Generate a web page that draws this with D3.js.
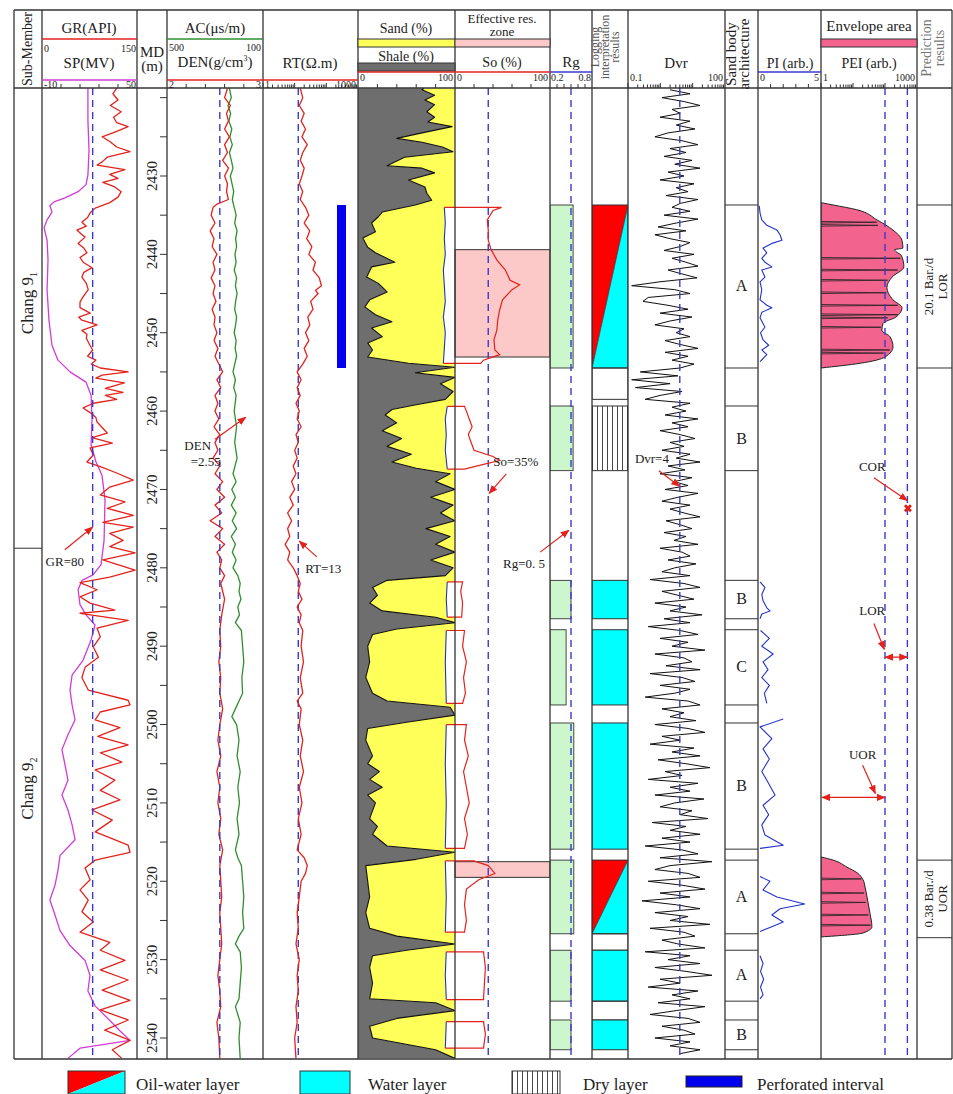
<!DOCTYPE html>
<html><head><meta charset="utf-8">
<script src="https://cdn.jsdelivr.net/npm/d3@7/dist/d3.min.js"></script>
<style>
html,body{margin:0;padding:0;background:#fff;}
svg{display:block;}
text{font-family:"Liberation Serif","Times New Roman",serif;fill:#222;}
</style></head><body>
<svg id="chart" width="953" height="1094"></svg>
<script>
// ================= DATA =================
const depthDomain = [2418.77, 2542.68];
const depthLabels = [2430,2440,2450,2460,2470,2480,2490,2500,2510,2520,2530,2540];
const depthTicks = [2420,2425,2430,2435,2440,2445,2450,2455,2460,2465,2470,2475,2480,2485,2490,2495,2500,2505,2510,2515,2520,2525,2530,2535,2540];
const subMembers = [["Chang 9","1",2418.77,2477.5],["Chang 9","2",2477.5,2542.68]];

const grCurve = [[2418.8,118],[2419.5,112],[2420.3,120],[2421,108],[2421.8,125],[2422.5,113],[2423.2,118],[2423.7,136],[2424.3,118],[2425,95],[2425.6,107],[2426.3,118],[2426.9,139],[2427.6,103],[2428.2,95],[2428.6,87],[2429.2,131],[2429.8,107],[2430.3,120],[2430.8,96],[2431.4,115],[2432,125],[2432.7,120],[2433.4,107],[2434.1,84],[2434.7,76],[2435.3,72],[2435.9,63],[2436.4,70],[2436.9,55],[2437.4,62],[2437.8,68],[2438.6,57],[2439.2,66],[2439.8,71],[2440.4,60],[2441,65],[2441.7,79],[2442.3,66],[2442.9,63],[2443.7,70],[2444.5,73],[2445.4,65],[2446.1,60],[2446.8,60],[2447.5,76],[2448,58],[2448.4,63],[2449,87],[2449.7,63],[2450.2,71],[2450.7,70],[2451.5,75],[2452.2,80],[2453,72],[2453.5,85],[2454,78],[2454.5,92],[2455,136],[2455.4,95],[2455.8,85],[2456.4,130],[2457.1,100],[2457.6,128],[2458,100],[2458.5,118],[2459,81],[2459.6,65],[2460.2,76],[2460.8,85],[2461.4,87],[2462.1,95],[2462.8,103],[2463.4,79],[2464.1,111],[2464.7,76],[2465.6,81],[2466.5,71],[2467.1,92],[2467.9,118],[2468.8,144],[2469.7,107],[2470.7,92],[2471.6,131],[2472.4,103],[2473.3,144],[2474.2,96],[2474.8,144],[2475.6,107],[2476.5,128],[2477.3,107],[2478.1,147],[2479,96],[2480.3,147],[2481.2,107],[2481.9,60],[2482.8,87],[2483.7,60],[2484.5,76],[2485.4,115],[2485.8,60],[2486.7,136],[2487.7,87],[2488.8,92],[2490.1,81],[2491.4,89],[2492.7,68],[2494,63],[2495.6,73],[2496.9,136],[2497.5,139],[2498.4,92],[2499.4,84],[2500.4,123],[2501.5,88],[2502.6,136],[2503.6,92],[2504.8,126],[2505.8,84],[2507.1,115],[2508.4,92],[2509.6,123],[2510.9,79],[2512.2,111],[2513.7,84],[2515.4,136],[2516.3,139],[2517.3,84],[2518.3,68],[2519.8,76],[2521.1,60],[2522.4,73],[2523.9,63],[2525.2,81],[2526.5,60],[2527.8,107],[2528.8,92],[2530.1,131],[2531.3,92],[2532.6,136],[2533.9,95],[2535.2,139],[2536.4,92],[2537.7,136],[2539,99],[2540.3,139],[2541.5,111],[2542.6,126]];

const spCurve = [[2418.8,19],[2422.9,19],[2426.7,19.7],[2429.9,19],[2431.1,17.8],[2432,12.8],[2432.8,4.5],[2433.3,-2.4],[2433.8,-5],[2434.6,-3.7],[2435.6,-6.8],[2436.6,-8.7],[2438.2,-6.8],[2440.7,-6.2],[2444.5,-6.8],[2448.4,-5.6],[2451.6,-3.7],[2453.5,0.1],[2455,7.7],[2456.3,17.8],[2458,21],[2461.1,21.6],[2464.3,21],[2466.5,24.1],[2468.2,27.9],[2471.3,29.8],[2476.5,29.2],[2479.6,27.3],[2480.9,22.2],[2481.6,15.3],[2482.8,12.8],[2484.7,14],[2486,17.8],[2487.3,23.5],[2489.2,21],[2491.8,15.9],[2493.7,9],[2495.6,7.7],[2497.5,9],[2499.4,10.9],[2501.3,6.4],[2503.2,2.6],[2505.1,4.5],[2507.1,6.4],[2509,2.6],[2510.9,6.4],[2512.8,9],[2514.7,10.9],[2516.7,1.4],[2518.6,0.1],[2520.5,-1.8],[2522.4,-5],[2524.3,-1.8],[2526.3,1.4],[2528.2,7.7],[2530.1,17.2],[2532,20.3],[2534,19],[2535.9,23.5],[2537.8,33],[2539.1,39.3],[2540.3,45.6],[2541.3,14],[2542.6,6.4]];

const acCurve = [[2418.8,240],[2420,232],[2421,246],[2422,235],[2423,242],[2424,230],[2425,238],[2426,228],[2427,240],[2428,232],[2429,225],[2430,236],[2431,229],[2432,222],[2433,228],[2434,220],[2435,212],[2436,218],[2437,208],[2438,214],[2439,210],[2440,217],[2441,212],[2442,220],[2443,210],[2444,215],[2445,208],[2446,214],[2447,218],[2448,210],[2449,214],[2450,220],[2451,212],[2452,216],[2453,210],[2454,218],[2455,225],[2456,215],[2457,222],[2458,212],[2460,220],[2462,210],[2464,218],[2466,208],[2468,225],[2469,212],[2470,230],[2471,215],[2472,232],[2473,212],[2474,228],[2475,210],[2476,232],[2477,215],[2478,228],[2479,212],[2480,225],[2481,205],[2482,195],[2483,200],[2484,192],[2485,205],[2486,198],[2487,215],[2488,190],[2490,185],[2492,180],[2494,188],[2496,185],[2497,200],[2498,215],[2499,230],[2500,210],[2502,200],[2504,208],[2506,195],[2508,205],[2510,198],[2512,208],[2514,200],[2516,215],[2517,205],[2518,190],[2520,185],[2522,180],[2524,185],[2526,180],[2527,200],[2528,215],[2529,195],[2531,190],[2533,195],[2535,200],[2536,215],[2537,205],[2538,195],[2540,200],[2542.6,195]];

const denCurve = [[2418.8,2.63],[2420,2.6],[2421,2.66],[2422,2.62],[2423,2.64],[2424,2.6],[2425,2.65],[2426,2.6],[2427,2.63],[2428,2.58],[2429,2.64],[2430,2.6],[2431,2.63],[2432,2.62],[2433,2.64],[2433.6,2.52],[2434,2.48],[2435,2.46],[2436,2.5],[2437,2.45],[2438,2.49],[2439,2.47],[2440,2.52],[2441,2.48],[2442,2.5],[2443,2.46],[2444,2.5],[2445,2.48],[2446,2.51],[2447,2.47],[2448,2.5],[2449,2.49],[2450,2.52],[2451,2.49],[2452,2.53],[2453,2.5],[2454,2.54],[2455,2.58],[2456,2.52],[2457,2.56],[2458,2.5],[2459,2.53],[2460,2.5],[2461,2.54],[2462,2.49],[2463,2.55],[2464,2.5],[2465,2.53],[2466,2.48],[2467,2.55],[2468,2.5],[2469,2.58],[2470,2.52],[2471,2.6],[2472,2.5],[2473,2.57],[2474,2.45],[2475,2.58],[2476,2.5],[2477,2.6],[2478,2.52],[2479,2.57],[2480,2.55],[2481,2.6],[2482,2.56],[2484,2.6],[2486,2.57],[2488,2.55],[2490,2.56],[2492,2.54],[2494,2.56],[2496,2.55],[2498,2.58],[2500,2.55],[2502,2.53],[2504,2.56],[2506,2.52],[2508,2.55],[2510,2.53],[2512,2.56],[2514,2.54],[2516,2.58],[2518,2.55],[2520,2.56],[2522,2.57],[2524,2.55],[2526,2.56],[2528,2.57],[2530,2.55],[2532,2.53],[2534,2.55],[2536,2.56],[2538,2.52],[2540,2.54],[2542.6,2.55]];

const rtCurve = [[2418.8,15],[2420,18],[2421,14],[2422,20],[2423,16],[2424,22],[2425,17],[2426,25],[2427,18],[2428,15],[2429,20],[2430,17],[2431,14],[2432,18],[2433,15],[2434,22],[2435,28],[2436,20],[2437,30],[2438,24],[2439,35],[2440,28],[2441,45],[2442,38],[2443,60],[2444,70],[2444.6,45],[2445,55],[2446,32],[2447,38],[2448,26],[2449,30],[2450,22],[2451,28],[2452,20],[2453,25],[2454,18],[2455,12],[2456,16],[2457,12],[2458,15],[2459,11],[2460,14],[2461,12],[2462,16],[2463,11],[2464,13],[2465,10],[2466,12],[2467,9],[2468,11],[2469,8],[2470,10],[2471,7],[2472,9],[2473,6],[2474,8],[2475,6],[2476,7],[2477,5],[2478,7],[2479,6],[2480,9],[2481,12],[2482,15],[2483,13],[2484,17],[2485,12],[2486,16],[2487,14],[2488,18],[2490,16],[2492,19],[2494,15],[2496,18],[2497,12],[2498,16],[2500,14],[2502,18],[2504,15],[2506,19],[2508,14],[2510,17],[2512,13],[2514,16],[2516,12],[2517,20],[2518,25],[2519,22],[2520,16],[2522,14],[2524,12],[2526,13],[2528,11],[2530,14],[2532,12],[2534,13],[2536,11],[2538,12],[2540,10],[2542.6,11]];

const shaleCurve = [[2418.8,68],[2419,66],[2419.7,79],[2420.3,69],[2420.9,79],[2421.8,71],[2422.5,79],[2423.1,72],[2423.7,97],[2424.5,66],[2425.2,40],[2425.7,66],[2426.3,87],[2426.9,98],[2427.6,48],[2428.7,30],[2429,66],[2429.6,79],[2430.5,52],[2431.4,69],[2432.2,71],[2433.1,76],[2433.7,59],[2434.6,25],[2435.2,21],[2436,14],[2437.1,18],[2437.9,5],[2439.1,10],[2439.8,18],[2441,38],[2441.6,14],[2442.9,9],[2443.7,21],[2444.8,30],[2445.8,12],[2446.7,7],[2447.7,18],[2448.6,35],[2449.4,14],[2450.5,25],[2451.3,10],[2452.2,15],[2453.1,10],[2453.9,52],[2454.4,100],[2455.1,59],[2455.7,100],[2456.5,85],[2457.5,98],[2458.5,90],[2459.2,60],[2459.8,35],[2460.5,28],[2461.5,40],[2462.5,25],[2463.5,45],[2464.5,30],[2465.5,55],[2466.5,35],[2467.3,60],[2468,95],[2469,80],[2470,100],[2471,75],[2472,98],[2473,85],[2474,100],[2475,70],[2476,95],[2477,80],[2478,100],[2479,75],[2480,98],[2481,90],[2481.6,30],[2482.5,15],[2483.5,20],[2484.5,12],[2485.5,25],[2486.3,80],[2487,100],[2487.8,40],[2488.5,15],[2490,10],[2492,12],[2494,8],[2496,15],[2497,30],[2497.8,95],[2498.8,100],[2499.7,50],[2500.5,10],[2502,8],[2504,15],[2505,10],[2506,22],[2507,12],[2508,25],[2509,10],[2510,18],[2512,12],[2513,20],[2514,15],[2515.5,30],[2516.3,100],[2517.2,60],[2518,8],[2520,10],[2522,12],[2524,8],[2526,12],[2527,40],[2528,100],[2528.8,50],[2529.5,15],[2531,12],[2533,15],[2535,12],[2535.5,80],[2536.5,100],[2537.5,40],[2538.5,12],[2540,15],[2541.5,80],[2542.6,100]];

const soSegments = [
 [[2434.0,49],[2434.4,40],[2435.6,34],[2436.9,35],[2438.2,35],[2439.4,38],[2440.7,44],[2442,53],[2443.3,58],[2443.9,68],[2444.5,60],[2445.8,50],[2447.1,47],[2448.4,45],[2449.7,44],[2450.9,41],[2452.2,42],[2452.8,47],[2453.5,30],[2453.9,27]],
 [[2459.4,10],[2460,12],[2461,15],[2462,18],[2463,14],[2464,17],[2465,20],[2465.8,40],[2466.3,47],[2466.8,30],[2467.4,10]],
 [[2481.8,8],[2483,6],[2484.5,8],[2486.3,7]],
 [[2488,10],[2490,8],[2492,12],[2494,9],[2496,11],[2497.3,8]],
 [[2500,12],[2502,10],[2504,14],[2506,9],[2508,12],[2510,15],[2512,10],[2514,13],[2515.8,10]],
 [[2517.4,20],[2518,35],[2519,42],[2519.8,25],[2521,12],[2523,10],[2525,12],[2526.5,10]],
 [[2529,30],[2531,32],[2533,31],[2535.1,30]],
 [[2537.9,30],[2539.5,32],[2541.3,30]]
];
const boundSegments = [
 [[2434.0,89],[2436,90],[2438,89],[2440,90],[2442,88],[2444,89],[2446,90],[2448,88],[2450,90],[2452,89],[2453.9,88]],
 [[2459.4,92],[2461,90],[2463,91],[2465,90],[2467.4,92]],
 [[2481.8,92],[2484,91],[2486.3,92]],
 [[2488,91],[2492,90],[2497.3,91]],
 [[2500,91],[2505,90],[2510,91],[2515.8,90]],
 [[2517.4,90],[2522,91],[2526.5,90]],
 [[2529,91],[2532,90],[2535.1,91]],
 [[2537.9,91],[2541.3,90]]
];
const effZones = [[2439.4,2453.1],[2517.5,2519.5]];

const rgBoxes = [[2433.7,2454.5,0.53],[2459.35,2467.6,0.53],[2481.6,2486.5,0.5],[2487.9,2497.5,0.43],[2499.8,2515.9,0.54],[2517.3,2526.7,0.54],[2528.8,2535.3,0.5],[2537.7,2541.5,0.5]];

const interpLayers = [["ow",2433.7,2454.5],["blank",2454.5,2458.5],["dry",2459.35,2467.6],["water",2481.6,2486.5],["water",2487.9,2497.5],["water",2499.8,2515.9],["ow",2517.3,2526.7],["blank",2526.7,2528.8],["water",2528.8,2535.3],["blank",2535.3,2537.7],["water",2537.7,2541.5]];

// Dvr sampled every 0.5 m from 2419.0 m
const dvrTop = 2419.0, dvrStep = 0.5;
const dvrValues = [
 2.0,8.3,1.12,5.4,16.9,2.3,4.1,0.98,8.3,3.1,11.8,1.73,0.68,4.7,14.6,2.0,6.2,1.3,9.5,2.8,16.9,1.73,5.4,0.98,11,3.1,7.2,1.5,14.6,4.1,
 2.3,8.3,1.3,14.6,3.1,0.85,6.2,0.68,2.0,8.3,4.1,1.3,11,2.3,6.2,14.6,1.73,4.7,13.6,0.98,0.13,2.8,8.3,0.42,0.29,1.73,7.2,0.98,9.5,2.0,0.68,5.4,3.1,8.3,1.4,4.1,14.6,1.4,7.2,2.3,11,4.1,
 0.24,3.5,0.13,2.0,0.17,4.7,0.98,0.34,8.3,2.3,
 6.2,1.4,14.6,2.3,7.2,0.98,4.1,11.8,2.0,5.4,1.12,8.3,3.1,16.9,1.73,5.8,0.98,9.5,2.65,7.2,1.4,14.6,3.5,1.12,8.3,2.0,5.4,16.9,1.5,4.1,9.5,1.3,6.2,2.65,14.6,0.98,4.7,8.3,1.73,12.7,2.8,1.12,
 8.3,0.48,5.4,16.9,1.12,3.5,11,0.68,6.2,2.0,19.4,1.3,8.3,0.42,4.1,14.6,0.98,7.2,2.3,24,0.68,5.4,9.5,1.5,16.9,0.48,4.7,11.8,0.98,8.3,2.8,0.34,7.2,16.9,1.12,5.4,2.0,12.7,
 0.68,7.2,24,1.12,4.1,0.48,11,2.3,16.9,0.85,6.2,34,1.4,4.7,0.42,14.6,2.0,8.3,0.68,22.4,2.8,0.98,9.5,4.1,29.8,0.55,6.2,2.0,16.9,1.12,8.3,0.34,4.7,14.6,0.98,39.6,2.0,0.68,7.2,16.9,
 0.42,4.7,24,0.98,8.3,0.27,3.1,16.9,0.68,7.2,2.0,34,0.48,5.4,11.8,1.12,3.5,24,0.34,8.3,1.73,16.9,0.68,6.2,39.6,0.98,4.1,0.42,14.6,2.3,8.3,0.85,24,3.1,0.48,7.2,16.9,1.12,5.4,11.8,0.68,8.3,2.0,16.9,4.1
];

const sandBodyBounds = [2433.7,2454.5,2459.35,2467.6,2481.6,2486.5,2487.9,2497.5,2499.8,2515.9,2517.3,2526.7,2528.8,2535.3,2537.7,2541.5];
const sandBodyLabels = [["A",2444.1],["B",2463.5],["B",2484.0],["C",2492.7],["B",2507.8],["A",2522.0],["A",2532.0],["B",2539.6]];

const piSegments = [
 [[2433.8,0.1],[2434.7,0.16],[2435.6,0.3],[2436.3,0.7],[2436.9,1.5],[2437.5,1.75],[2438.2,1.9],[2438.6,1.1],[2439.2,0.4],[2439.8,0.7],[2440.5,0.3],[2441,0.55],[2441.6,1.1],[2442,0.3],[2442.9,0.55],[2443.5,0.16],[2444.5,0.3],[2445.8,0.16],[2446.5,0.7],[2446.8,1.1],[2447.4,0.3],[2448.1,0.16],[2449.3,0.55],[2450,0.2],[2450.9,0.4],[2451.6,0.85],[2452.2,0.3],[2452.8,0.7],[2453.7,0.16]],
 [[2481.8,0.16],[2482.5,0.55],[2483.4,0.3],[2484.2,0.4],[2485.1,0.7],[2485.5,0.95],[2485.9,0.3],[2486.5,0.16]],
 [[2488,0.2],[2489,0.9],[2490,0.3],[2491,1.2],[2492,0.4],[2493,0.8],[2494,0.3],[2495,0.9],[2496,0.5],[2497.3,0.7]],
 [[2499.3,2.0],[2500.3,0.16],[2501.8,1.1],[2503.1,0.4],[2504.4,0.9],[2506,0.3],[2507.4,0.8],[2509,1.35],[2510.3,0.4],[2511.5,0.85],[2512.8,0.3],[2514.1,0.55],[2515.4,2.0],[2515.8,0.16]],
 [[2519.4,0.16],[2520,0.95],[2521.1,0.4],[2522,1.5],[2522.9,3.7],[2523.5,1.75],[2524.3,1.1],[2525.2,2.0],[2525.8,1.1],[2526.4,0.16]],
 [[2529.5,0.16],[2530.5,0.4],[2531.5,0.2],[2532.5,0.45],[2533.5,0.2],[2534.5,0.4],[2535,0.16]]
];

const peiEnvelopes = [
 [[2433.4,1],[2433.7,2.4],[2434.3,13],[2435.6,56],[2436.9,178],[2438.2,339],[2439.2,363],[2439.4,200],[2440.2,330],[2441.6,389],[2442.9,166],[2444.2,115],[2445.8,178],[2446.8,339],[2448,220],[2448.8,87],[2449.7,80],[2450.5,143],[2451.8,178],[2453.1,100],[2453.9,16.5],[2454.5,1]],
 [[2516.9,1],[2517.3,2.4],[2518.2,6.5],[2518.9,13.3],[2519.8,20.5],[2520.7,23.7],[2522,27.4],[2524.1,34],[2525.8,39],[2526.6,20.5],[2527.1,1]]
];
const peiSpikes = [[2435.9,55],[2436.3,60],[2440.5,300],[2442,250],[2443.3,120],[2444.9,110],[2446.5,250],[2447.7,250],[2448.1,120],[2449.3,75],[2452.2,140],[2452.6,90],[2519.7,18],[2521.5,22],[2522.7,25],[2524.3,30],[2525.6,35]];

const predictions = [[2433.7,2454.5,"20.1 Bar./d","LOR"],[2517.3,2527.2,"0.38 Bar./d","UOR"]];
const perforated = [[2433.7,2454.5]];

const cutoffGR = [80], cutoffDEN = [2.55], cutoffRT = [13], cutoffSo = [35], cutoffRg = [0.5], cutoffDvr = [4], cutoffPEI = [100, 500];

// ================= LAYOUT =================
const svg = d3.select('#chart');
const TOP = 10, HB = 88, BOT = 1059, LEFT = 14, RIGHT = 952;
const cols = {sub:[14,42], gr:[42,137], md:[137,167], ac:[167,263], rt:[263,358], sand:[358,455], so:[455,550], rg:[550,592], interp:[592,628], dvr:[628,725], body:[725,758], pi:[758,821], pei:[821,917], pred:[917,952]};
const RED = "#e3221c", BLUE = "#3a3acc", MAG = "#d23bd6", GREEN = "#2f8f2f";

const y = d3.scaleLinear().domain(depthDomain).range([HB, BOT]);
const xGR = d3.scaleLinear().domain([0,150]).range(cols.gr);
const xSP = d3.scaleLinear().domain([-10,50]).range(cols.gr);
const xAC = d3.scaleLinear().domain([500,100]).range(cols.ac);
const xDEN = d3.scaleLinear().domain([2,3]).range(cols.ac);
const xRT = d3.scaleLog().domain([1,1000]).range(cols.rt);
const xSh = d3.scaleLinear().domain([0,100]).range(cols.sand);
const xSo = d3.scaleLinear().domain([0,100]).range(cols.so);
const xRg = d3.scaleLinear().domain([0.2,0.8]).range(cols.rg);
const xDvr = d3.scaleLog().domain([0.1,100]).range(cols.dvr);
const xPI = d3.scaleLinear().domain([0,5]).range(cols.pi);
const xPEI = d3.scaleLog().domain([1,1000]).range(cols.pei);

const defs = svg.append('defs');
Object.entries(cols).forEach(([k,[a,b]])=>{
  defs.append('clipPath').attr('id','clip-'+k).append('rect').attr('x',a).attr('y',HB).attr('width',b-a).attr('height',BOT-HB);
});
defs.append('clipPath').attr('id','clip-sandso').append('rect').attr('x',cols.sand[0]).attr('y',HB).attr('width',cols.so[1]-cols.sand[0]).attr('height',BOT-HB);
const hatch = defs.append('pattern').attr('id','hatch').attr('width',5).attr('height',10).attr('patternUnits','userSpaceOnUse');
hatch.append('rect').attr('width',5).attr('height',10).attr('fill','#fff');
hatch.append('line').attr('x1',2.5).attr('x2',2.5).attr('y1',0).attr('y2',10).attr('stroke','#333').attr('stroke-width',0.9);
const mk = defs.append('marker').attr('id','arr').attr('viewBox','0 0 10 10').attr('refX',9).attr('refY',5).attr('markerWidth',9).attr('markerHeight',9).attr('orient','auto-start-reverse').attr('markerUnits','userSpaceOnUse');
mk.append('path').attr('d','M0,1 L10,5 L0,9 Z').attr('fill',RED);

const g = svg.append('g');
function layer(k){ return g.append('g').attr('clip-path','url(#clip-'+k+')'); }
function curve(layerSel, data, xs, color, w){
  layerSel.append('path').datum(data).attr('fill','none').attr('stroke',color).attr('stroke-width',w||1.2)
    .attr('stroke-linejoin','round').attr('d', d3.line().x(d=>xs(d[1])).y(d=>y(d[0])));
}
function vdash(layerSel, xv, color){
  layerSel.append('line').attr('x1',xv).attr('x2',xv).attr('y1',HB).attr('y2',BOT)
    .attr('stroke',color||BLUE).attr('stroke-width',1.4).attr('stroke-dasharray','7,5');
}

// ---- GR / SP
const lgr = layer('gr');
curve(lgr, spCurve, xSP, MAG, 1.3);
curve(lgr, grCurve, xGR, RED, 1.3);
cutoffGR.forEach(v=>vdash(lgr, xGR(v)));

// ---- AC / DEN
const lac = layer('ac');
curve(lac, acCurve, xAC, GREEN, 1.3);
curve(lac, denCurve, xDEN, RED, 1.3);
cutoffDEN.forEach(v=>vdash(lac, xDEN(v)));

// ---- RT
const lrt = layer('rt');
cutoffRT.forEach(v=>vdash(lrt, xRT(v)));
curve(lrt, rtCurve, xRT, RED, 1.3);
perforated.forEach(p=>{
  lrt.append('rect').attr('x',337).attr('width',9).attr('y',y(p[0])).attr('height',y(p[1])-y(p[0])).attr('fill','#0000ee');
});

// ---- Sand / Shale
const lsand = layer('sand');
lsand.append('path').datum(shaleCurve).attr('fill','#6e6e6e').attr('d', d3.area().y(d=>y(d[0])).x0(cols.sand[0]).x1(d=>xSh(d[1])));
lsand.append('path').datum(shaleCurve).attr('fill','#ffff5a').attr('d', d3.area().y(d=>y(d[0])).x0(d=>xSh(d[1])).x1(cols.sand[1]));
curve(lsand, shaleCurve, xSh, '#111', 1.1);

// ---- So + bound (white pockets)
const lso = g.append('g').attr('clip-path','url(#clip-sandso)');
soSegments.forEach((seg,i)=>{
  const bnd = boundSegments[i];
  const pts = bnd.map(d=>[xSh(d[1]), y(d[0])]).concat(seg.slice().reverse().map(d=>[xSo(d[1]), y(d[0])]));
  lso.append('path').attr('d', d3.line()(pts)+'Z').attr('fill','#fff').attr('stroke','none');
});
effZones.forEach(z=>{
  lso.append('rect').attr('x',cols.so[0]).attr('width',cols.so[1]-cols.so[0]).attr('y',y(z[0])).attr('height',y(z[1])-y(z[0]))
   .attr('fill','#fcc8c8').attr('stroke','#333').attr('stroke-width',1);
});
cutoffSo.forEach(v=>vdash(lso, xSo(v)));
soSegments.forEach((seg,i)=>{
  const bnd = boundSegments[i];
  lso.append('path').datum(bnd).attr('fill','none').attr('stroke','#2233bb').attr('stroke-width',1.1).attr('d', d3.line().x(d=>xSh(d[1])).y(d=>y(d[0])));
  const pts = [[xSh(bnd[0][1]), y(bnd[0][0])]].concat(seg.map(d=>[xSo(d[1]), y(d[0])])).concat([[xSh(bnd[bnd.length-1][1]), y(bnd[bnd.length-1][0])]]);
  lso.append('path').attr('d', d3.line()(pts)).attr('fill','none').attr('stroke',RED).attr('stroke-width',1.2);
});

// ---- Rg
const lrg = layer('rg');
rgBoxes.forEach(b=>{
  lrg.append('rect').attr('x',xRg(0.2)).attr('width',xRg(b[2])-xRg(0.2)).attr('y',y(b[0])).attr('height',y(b[1])-y(b[0]))
    .attr('fill','#ccf7cc').attr('stroke','#333').attr('stroke-width',0.9);
});
cutoffRg.forEach(v=>vdash(lrg, xRg(v)));

// ---- Interpretation
const li = layer('interp');
const ix0 = cols.interp[0], ix1 = cols.interp[1];
interpLayers.forEach(L=>{
  const t = y(L[1]), b = y(L[2]);
  if (L[0]==='ow'){
    li.append('path').attr('d',`M${ix0},${t}L${ix1},${t}L${ix0},${b}Z`).attr('fill','#ff0000');
    li.append('path').attr('d',`M${ix1},${t}L${ix1},${b}L${ix0},${b}Z`).attr('fill','#00ffff');
    li.append('line').attr('x1',ix1).attr('y1',t).attr('x2',ix0).attr('y2',b).attr('stroke','#333').attr('stroke-width',0.8);
  } else if (L[0]==='water'){
    li.append('rect').attr('x',ix0).attr('y',t).attr('width',ix1-ix0).attr('height',b-t).attr('fill','#00ffff');
  } else if (L[0]==='dry'){
    li.append('rect').attr('x',ix0).attr('y',t).attr('width',ix1-ix0).attr('height',b-t).attr('fill','url(#hatch)');
  }
  li.append('rect').attr('x',ix0).attr('y',t).attr('width',ix1-ix0).attr('height',b-t).attr('fill','none').attr('stroke','#333').attr('stroke-width',1);
});

// ---- Dvr
const ldvr = layer('dvr');
const dvrCurve = dvrValues.map((v,i)=>[dvrTop + i*dvrStep, v]);
curve(ldvr, dvrCurve, xDvr, '#111', 1.0);
cutoffDvr.forEach(v=>vdash(ldvr, xDvr(v)));

// ---- Sand body
const lb = layer('body');
sandBodyBounds.forEach(d=>{
  lb.append('line').attr('x1',cols.body[0]).attr('x2',cols.body[1]).attr('y1',y(d)).attr('y2',y(d)).attr('stroke','#333').attr('stroke-width',1);
});
sandBodyLabels.forEach(l=>{
  lb.append('text').attr('x',(cols.body[0]+cols.body[1])/2).attr('y',y(l[1])+5).attr('text-anchor','middle').attr('font-size',16).text(l[0]);
});

// ---- PI
const lpi = layer('pi');
piSegments.forEach(s=>curve(lpi, s, xPI, '#2233cc', 1.1));

// ---- PEI
const lpei = layer('pei');
peiEnvelopes.forEach(e=>{
  lpei.append('path').datum(e).attr('fill','#f2648e').attr('stroke','#222').attr('stroke-width',1)
   .attr('d', d3.area().curve(d3.curveMonotoneY).y(d=>y(d[0])).x0(xPEI(1)).x1(d=>xPEI(d[1])));
});
peiSpikes.forEach(s=>{
  const yy = y(s[0]);
  lpei.append('path').attr('d',`M${xPEI(1)},${yy-0.8}L${xPEI(s[1])},${yy}L${xPEI(1)},${yy+0.8}`).attr('fill','none').attr('stroke','#222').attr('stroke-width',0.8);
});
cutoffPEI.forEach(v=>vdash(lpei, xPEI(v)));

// ---- Prediction
const lp = layer('pred');
predictions.forEach(p=>{
  const t=y(p[0]), b=y(p[1]), cy=(t+b)/2;
  [t,b].forEach(v=>lp.append('line').attr('x1',cols.pred[0]).attr('x2',cols.pred[1]).attr('y1',v).attr('y2',v).attr('stroke','#333'));
  lp.append('text').attr('transform',`translate(933,${cy}) rotate(-90)`).attr('text-anchor','middle').attr('font-size',13).text(p[2]);
  lp.append('text').attr('transform',`translate(947,${cy}) rotate(-90)`).attr('text-anchor','middle').attr('font-size',13).text(p[3]);
});

// ---- MD axis
const lmd = g.append('g');
depthTicks.forEach(d=>{
  lmd.append('line').attr('x1',cols.md[1]-7).attr('x2',cols.md[1]).attr('y1',y(d)).attr('y2',y(d)).attr('stroke','#333');
});
depthLabels.forEach(d=>{
  lmd.append('text').attr('transform',`translate(157,${y(d)}) rotate(-90)`).attr('text-anchor','middle').attr('font-size',15).text(d);
});

// ---- Sub-member
subMembers.forEach(s=>{
  const cy = (y(s[2])+y(s[3]))/2 - 15;
  const t = g.append('text').attr('transform',`translate(33,${cy}) rotate(-90)`).attr('text-anchor','middle').attr('font-size',17);
  t.append('tspan').text(s[0]);
  t.append('tspan').attr('font-size',10).attr('dy',4).text(s[1]);
});
g.append('line').attr('x1',cols.sub[0]).attr('x2',cols.sub[1]).attr('y1',y(subMembers[0][3])).attr('y2',y(subMembers[0][3])).attr('stroke','#333');

// ---- Annotations (in data units)
function annot(xs, txtLines, tx, td, fromV, fromD, toV, toD, dx2){
  g.append('line').attr('x1',xs(fromV)).attr('y1',y(fromD)).attr('x2',xs(toV)).attr('y2',y(toD)).attr('stroke',RED).attr('stroke-width',1.2).attr('marker-end','url(#arr)');
  txtLines.forEach((s,i)=>g.append('text').attr('x',xs(tx)+(i>0?(dx2||0):0)).attr('y',y(td)+i*16).attr('text-anchor','middle').attr('font-size',13).text(s));
}
annot(xGR, ["GR=80"], 36, 2479.8, 36, 2477.7, 80, 2474.8);
annot(xDEN, ["DEN","=2.55"], 2.32, 2465.0, 2.5, 2463.6, 2.82, 2460.8, 8);
annot(xRT, ["RT=13"], 80, 2480.6, 50, 2478.6, 14, 2476.6);
annot(xSo, ["So=35%"], 64, 2467.0, 54, 2468.0, 36, 2470.5);
annot(xRg, ["Rg=0. 5"], -0.17, 2480.0, 0.06, 2478.0, 0.47, 2475.2);
annot(xDvr, ["Dvr=4"], 0.55, 2466.6, 0.9, 2467.6, 3.9, 2469.6);
annot(xPEI, ["COR"], 40, 2467.6, 45, 2468.5, 500, 2471.4);
g.append('path').attr('d',d3.symbol().type(d3.symbolCross).size(40)()).attr('transform',`translate(${xPEI(520)},${y(2472.4)}) rotate(45)`).attr('fill',RED);
annot(xPEI, ["LOR"], 40, 2486.0, 45, 2487.1, 95, 2490.4);
g.append('line').attr('x1',xPEI(100)).attr('x2',xPEI(500)).attr('y1',y(2491.4)).attr('y2',y(2491.4)).attr('stroke',RED).attr('stroke-width',1.3).attr('marker-start','url(#arr)').attr('marker-end','url(#arr)');
annot(xPEI, ["UOR"], 20, 2504.4, 20, 2505.2, 50, 2508.8);
g.append('line').attr('x1',xPEI(1)+1).attr('x2',xPEI(100)).attr('y1',y(2509.3)).attr('y2',y(2509.3)).attr('stroke',RED).attr('stroke-width',1.3).attr('marker-start','url(#arr)').attr('marker-end','url(#arr)');

// ================= GRID / HEADER =================
const gridColor = '#333';
[14,42,137,167,263,358,455,550,592,628,725,758,821,917,952].forEach(x=>{
  svg.append('line').attr('x1',x).attr('x2',x).attr('y1',TOP).attr('y2',BOT).attr('stroke',gridColor).attr('stroke-width',1.3);
});
[TOP,HB,BOT].forEach(v=>svg.append('line').attr('x1',LEFT).attr('x2',RIGHT).attr('y1',v).attr('y2',v).attr('stroke',gridColor).attr('stroke-width',1.3));

const H = svg.append('g');
function ht(x,yv,s,size,anchor){ return H.append('text').attr('x',x).attr('y',yv).attr('font-size',size||13).attr('text-anchor',anchor||'middle').text(s); }
function hrot(x,yv,s,size,color){ return H.append('text').attr('transform',`translate(${x},${yv}) rotate(-90)`).attr('font-size',size||13).attr('text-anchor','middle').style('fill',color||'#222').text(s); }
function hline(x0,x1,yv,color,w){ H.append('line').attr('x1',x0).attr('x2',x1).attr('y1',yv).attr('y2',yv).attr('stroke',color).attr('stroke-width',w||1.5); }
function hbar(x0,x1,y0,y1,fill){ H.append('rect').attr('x',x0).attr('y',y0).attr('width',x1-x0).attr('height',y1-y0).attr('fill',fill).attr('stroke','#333').attr('stroke-width',1); }
function linTicks(xs, vals){ vals.forEach(v=>H.append('line').attr('x1',xs(v)).attr('x2',xs(v)).attr('y1',HB-4).attr('y2',HB).attr('stroke','#333')); }
function logTicks(xs, lo, hi){
  for(let dec=lo; dec<hi; dec*=10){ for(let m=1;m<10;m++){ const v=dec*m; const xv=xs(v); H.append('line').attr('x1',xv).attr('x2',xv).attr('y1',HB-(m===1?5:3.5)).attr('y2',HB).attr('stroke','#333'); } }
}

hrot(32,49,"Sub-Member",14);
ht(89,33,"GR(API)",15); hline(42,137,39,RED);
ht(44,52,"0",10,'start'); ht(136,52,"150",10,'end');
ht(89,68,"SP(MV)",15); hline(42,137,80,MAG);
ht(44,88,"-10",10,'start'); ht(136,88,"50",10,'end');
linTicks(xGR,[30,60,90,120]);
ht(152,57,"MD",15); ht(152,71,"(m)",15);
ht(215,33,"AC(μs/m)",15); hline(167,263,39,GREEN);
ht(169,51,"500",10,'start'); ht(261,51,"100",10,'end');
const tden = ht(215,67,"DEN(g/cm",15); tden.append('tspan').attr('font-size',8).attr('dy',-6).text('3'); tden.append('tspan').attr('dy',6).text(')');
hline(167,263,80,RED);
ht(169,88,"2",10,'start'); ht(261,88,"3",10,'end');
linTicks(xDEN,[2.2,2.4,2.6,2.8]);
ht(310,68,"RT(Ω.m)",15); hline(263,358,80,RED);
ht(265,88,"1",10,'start'); ht(356,88,"1000",10,'end');
logTicks(xRT,1,1000);
ht(406,33,"Sand (%)",14); hbar(358,455,39,47,'#ffff5a');
ht(406,61,"Shale (%)",14); hbar(358,455,63,71,'#6e6e6e');
hline(358,550,72,RED);
ht(360,81,"0",10,'start'); ht(453,81,"100",10,'end');
linTicks(xSh,[20,40,60,80]);
ht(502,23,"Effective res.",13); ht(502,36,"zone",13); hbar(455,550,39,47,'#fcc8c8');
ht(502,67,"So (%)",14);
ht(457,81,"0",10,'start'); ht(548,81,"100",10,'end');
linTicks(xSo,[20,40,60,80]);
ht(571,67,"Rg",15); hline(550,592,72,BLUE);
ht(551,81,"0.2",10,'start'); ht(591,81,"0.8",10,'end');
linTicks(xRg,[0.3,0.4,0.5,0.6,0.7]);
hrot(599,47,"Logging",12,'#555'); hrot(609,47,"interpretation",12,'#555'); hrot(619,47,"results",12,'#555');
ht(676,68,"Dvr",15);
ht(630,81,"0.1",10,'start'); ht(723,81,"100",10,'end');
logTicks(xDvr,0.1,100);
hrot(736,54,"Sand body",15); hrot(749,54,"architecture",15);
ht(790,68,"PI (arb.)",14); hline(758,821,72,BLUE);
ht(760,81,"0",10,'start'); ht(819,81,"5",10,'end');
linTicks(xPI,[1,2,3,4]);
ht(869,31,"Envelope area",15); hbar(821,917,39,47,'#f2648e');
ht(869,68,"PEI (arb.)",14);
ht(823,81,"1",10,'start'); ht(915,81,"1000",10,'end');
logTicks(xPEI,1,1000);
hrot(931,48,"Prediction",14,'#777'); hrot(944,48,"results",14,'#777');

// ================= LEGEND =================
const LG = svg.append('g');
LG.append('path').attr('d','M68,1071L125,1071L68,1094Z').attr('fill','#ff0000');
LG.append('path').attr('d','M125,1071L125,1094L68,1094Z').attr('fill','#00ffff');
LG.append('rect').attr('x',68).attr('y',1071).attr('width',57).attr('height',23).attr('fill','none').attr('stroke','#333');
LG.append('text').attr('x',136).attr('y',1090).attr('font-size',17).text('Oil-water layer');
LG.append('rect').attr('x',300).attr('y',1071).attr('width',50).attr('height',23).attr('fill','#00ffff').attr('stroke','#333');
LG.append('text').attr('x',368).attr('y',1090).attr('font-size',17).text('Water layer');
LG.append('rect').attr('x',512).attr('y',1071).attr('width',48).attr('height',23).attr('fill','url(#hatch)').attr('stroke','#333');
LG.append('text').attr('x',583).attr('y',1090).attr('font-size',17).text('Dry layer');
LG.append('rect').attr('x',686).attr('y',1076).attr('width',56).attr('height',11).attr('fill','#0000ee').attr('stroke','#222');
LG.append('text').attr('x',757).attr('y',1090).attr('font-size',17).text('Perforated interval');
</script>
</body></html>
